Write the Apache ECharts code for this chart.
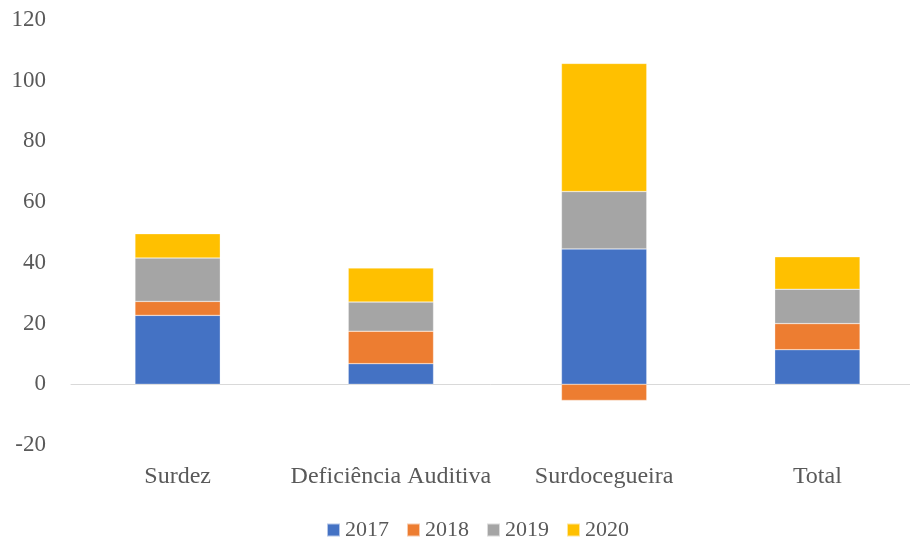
<!DOCTYPE html>
<html>
<head>
<meta charset="utf-8">
<script src="https://cdn.jsdelivr.net/npm/echarts@6/dist/echarts.min.js"></script>
<style>
  html, body { margin: 0; padding: 0; background: #fff; }
  #chart { width: 910px; height: 537px; }
</style>
</head>
<body>
<div id="chart"></div>
<script>
// Categories and yearly values (stacked)
const categories = ['Surdez', 'Deficiência Auditiva', 'Surdocegueira', 'Total'];
const years = ['2017', '2018', '2019', '2020'];
const values2017 = [22.7, 6.8, 44.6, 11.4];
const values2018 = [4.6, 10.7, -5.3, 8.6];
const values2019 = [14.3, 9.6, 18.9, 11.3];
const values2020 = [8.0, 11.2, 42.2, 10.7];
const yTicks = { min: -20, max: 120, interval: 20 };

const colors = ['#4472C4', '#ED7D31', '#A5A5A5', '#FFC000'];
const seriesValues = [values2017, values2018, values2019, values2020];
const fontFamily = '"Liberation Serif", "DejaVu Serif", serif';

const chart = echarts.init(document.getElementById('chart'), null, { renderer: 'canvas' });
chart.setOption({
  animation: false,
  color: colors,
  textStyle: { fontFamily: fontFamily },
  grid: { left: 71, top: 20, width: 853, height: 425, containLabel: false, outerBoundsMode: 'none' },
  legend: {
    data: years,
    top: 514,
    left: 321,
    itemWidth: 13,
    itemHeight: 13,
    itemGap: 17,
    icon: 'rect',
    textStyle: { fontSize: 22, color: '#595959', fontFamily: fontFamily }
  },
  xAxis: {
    type: 'category',
    data: categories,
    axisLine: { onZero: true, lineStyle: { color: '#D9D9D9', width: 1 } },
    axisTick: { show: false },
    axisLabel: { interval: 0, fontSize: 24, color: '#595959', margin: 20, fontFamily: fontFamily }
  },
  yAxis: {
    type: 'value',
    min: yTicks.min,
    max: yTicks.max,
    interval: yTicks.interval,
    axisLine: { show: false },
    axisTick: { show: false },
    splitLine: { show: false },
    axisLabel: { fontSize: 23, color: '#595959', margin: 25, fontFamily: fontFamily }
  },
  series: years.map((y, i) => ({
    name: y,
    type: 'bar',
    stack: 'total',
    barWidth: '40%',
    data: seriesValues[i],
    itemStyle: { color: colors[i], borderColor: 'rgba(255,255,255,0.6)', borderWidth: 0.5 }
  }))
});
</script>
</body>
</html>
